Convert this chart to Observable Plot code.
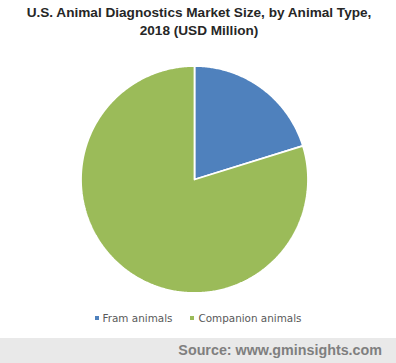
<!DOCTYPE html>
<html>
<head>
<meta charset="utf-8">
<script src="https://cdn.jsdelivr.net/npm/d3@7"></script>
<script src="https://cdn.jsdelivr.net/npm/@observablehq/plot@0.6"></script>
<style>
  html, body { margin: 0; padding: 0; background: #fff; }
  #wrap { position: relative; width: 396px; height: 363px; overflow: hidden; font-family: "Liberation Sans", Arial, sans-serif; }
  #title { position: absolute; left: 0; top: 4px; width: 398px; text-align: center; font-weight: bold; font-size: 13.6px; line-height: 18px; color: #262626; }
  #chart { position: absolute; left: 0; top: 45px; }
  #legend { position: absolute; left: 0; top: 312px; width: 396px; display: flex; justify-content: center; align-items: center; font-family: "DejaVu Sans", Verdana, sans-serif; font-size: 10.4px; color: #595959; }
  #legend .item { display: flex; align-items: center; margin: 0 9px; }
  #legend .sw { width: 4px; height: 4px; margin-right: 4px; }
  #source { position: absolute; left: 0; top: 338px; width: 396px; height: 25px; background: #e9e9e9; }
  #source span { position: absolute; right: 14px; top: 4px; font-weight: bold; font-size: 14.3px; color: #7f7f7f; }
</style>
</head>
<body>
<div id="wrap">
  <div id="title">U.S. Animal Diagnostics Market Size, by Animal Type,<br>2018 (USD Million)</div>
  <div id="chart"></div>
  <div id="legend"></div>
  <div id="source"><span>Source: www.gminsights.com</span></div>
</div>
<script>
const categories = ["Fram animals", "Companion animals"];
const values = [20.2, 79.8];
const colors = ["#4F81BD", "#9BBB59"];

const pie = d3.pie().sort(null).value(d => d.value)(categories.map((name, i) => ({name, value: values[i]})));
const slices = [];
for (const arc of pie) {
  const name = arc.data.name;
  slices.push({name, x: 0, y: 0});
  const n = Math.max(2, Math.ceil((arc.endAngle - arc.startAngle) / 0.01));
  for (let k = 0; k <= n; k++) {
    const a = arc.startAngle + (arc.endAngle - arc.startAngle) * k / n;
    slices.push({name, x: Math.sin(a), y: Math.cos(a)});
  }
  slices.push({name, x: 0, y: 0});
}

const plot = Plot.plot({
  width: 396,
  height: 270,
  marginLeft: 80.5,
  marginRight: 88.5,
  marginTop: 20.5,
  marginBottom: 22.5,
  x: {domain: [-1, 1], axis: null},
  y: {domain: [-1, 1], axis: null},
  color: {domain: categories, range: colors},
  marks: [
    Plot.line(slices, {x: "x", y: "y", z: "name", fill: "name", stroke: "white", strokeWidth: 1.8, strokeLinejoin: "miter", curve: "linear"})
  ]
});
document.getElementById("chart").appendChild(plot);

const legend = document.getElementById("legend");
categories.forEach((c, i) => {
  const item = document.createElement("div");
  item.className = "item";
  const sw = document.createElement("div");
  sw.className = "sw";
  sw.style.background = colors[i];
  const t = document.createElement("span");
  t.textContent = c;
  item.appendChild(sw);
  item.appendChild(t);
  legend.appendChild(item);
});
</script>
</body>
</html>
